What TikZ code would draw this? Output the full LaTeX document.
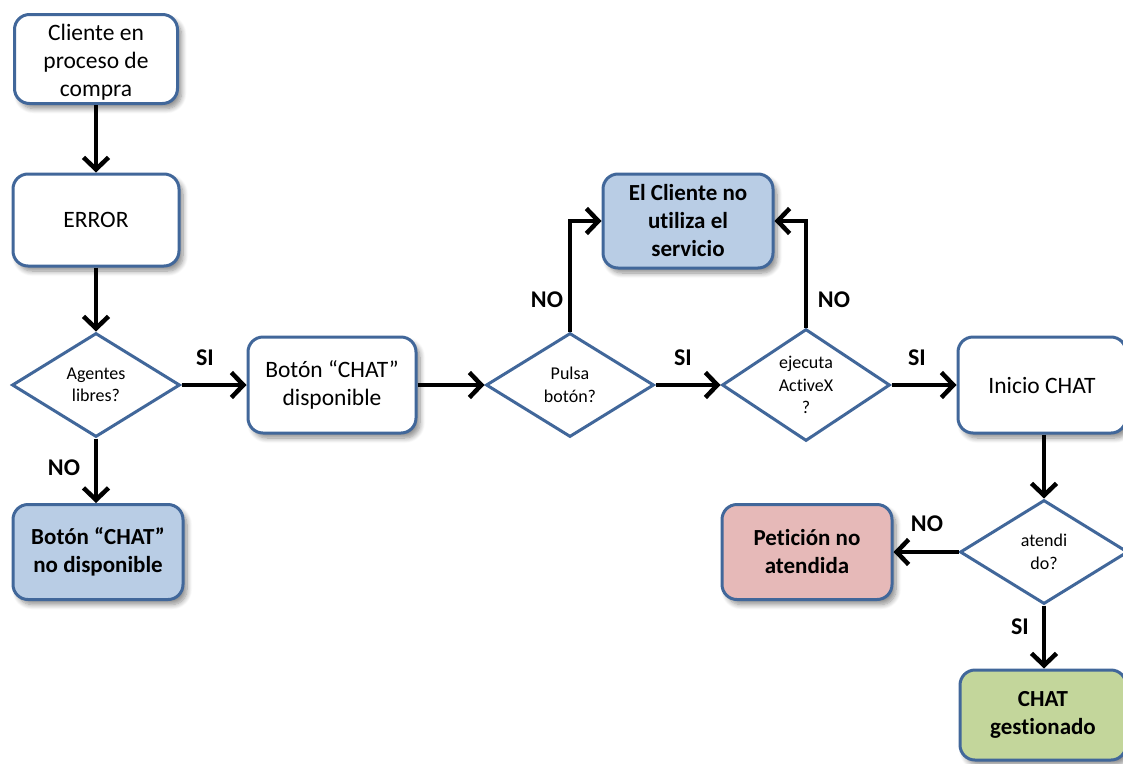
\documentclass[tikz,border=0pt]{standalone}
\usepackage{fontspec}
\setmainfont{Carlito}[Ligatures=NoCommon]
\usetikzlibrary{shapes.geometric,arrows.meta,shadows.blur}
\definecolor{edgeblue}{HTML}{41679A}
\definecolor{lightblue}{HTML}{B9CDE5}
\definecolor{lightpink}{HTML}{E6B9B8}
\definecolor{lightgreen}{HTML}{C3D69B}
\tikzset{
  boxbase/.style={draw=edgeblue, line width=3pt, rounded corners=15pt,
    align=center, inner sep=0pt,
    blur shadow={shadow xshift=4pt, shadow yshift=-5pt, shadow blur radius=5pt,
      shadow blur steps=8, shadow opacity=45}},
  boxtext/.style={font=\fontsize{23.5}{28}\selectfont, align=center, inner sep=0pt},
  procbox/.style={boxbase, fill=white, minimum width=166pt, minimum height=92pt,
    font=\fontsize{23.5}{28}\selectfont},
  endbox/.style={boxbase, minimum width=168pt, minimum height=93pt,
    font=\fontsize{23}{28}\selectfont\bfseries},
  decision/.style={diamond, draw=edgeblue, line width=3pt, fill=white, align=center,
    inner sep=0pt, minimum width=168pt, minimum height=104pt,
    font=\fontsize{18}{22.5}\selectfont},
  arr/.style={line width=4.3pt, -{Straight Barb[length=12pt,width=25pt,line width=4.5pt]}},
  lbl/.style={font=\fontsize{24}{26}\selectfont\bfseries, inner sep=0pt}
}
\begin{document}
\begin{tikzpicture}[x=1pt,y=-1pt]
  \useasboundingbox (0,0) rectangle (1123,763);
  % process boxes
  \node[procbox, minimum width=163pt, minimum height=89pt] (start) at (96,59) {};
  \node[boxtext] (starttext) at (96,62) {Cliente en\\proceso de\\compra};
  \node[procbox] (err) at (96,220) {ERROR};
  \node[procbox, minimum width=168pt, minimum height=96pt] (avail) at (332,385) {Botón “CHAT”\\disponible};
  \node[procbox, minimum width=168pt, minimum height=96pt] (chat) at (1042,385) {Inicio CHAT};
  % decisions
  \node[decision] (free) at (96,385) {Agentes\\libres?};
  \node[decision] (press) at (570,385) {Pulsa\\botón?};
  \node[decision] (activex) at (806,385) {ejecuta\\ActiveX\\?};
  \node[decision] (served) at (1044,552) {atendi\\do?};
  % end states
  \node[endbox, fill=lightblue, minimum width=170pt, minimum height=95pt] (unavail) at (98,552) {Botón “CHAT”\\no disponible};
  \node[endbox, fill=lightblue, minimum width=170pt, minimum height=94pt] (noserv) at (688,221) {El Cliente no\\utiliza el\\servicio};
  \node[endbox, fill=lightpink, minimum width=170pt, minimum height=95pt] (rejected) at (807,552) {Petición no\\atendida};
  \node[endbox, fill=lightgreen, minimum width=166pt, minimum height=90pt] (done) at (1043,715) {CHAT\\gestionado};
  % connectors
  \draw[arr] (start) -- (err);
  \draw[arr] (err) -- (free);
  \draw[arr] (free.south) -- (free.south |- unavail.north);
  \draw[arr] (free) -- (avail);
  \draw[arr] (avail) -- (press);
  \draw[arr] (press) -- (activex);
  \draw[arr] (activex) -- (chat);
  \draw[arr] (press.north) |- (noserv.west);
  \draw[arr] (activex.north) |- (noserv.east);
  \draw[arr] (chat.south -| served.north) -- (served.north);
  \draw[arr] (served) -- (rejected);
  \draw[arr] (served) -- (done.north -| served.south);
  % branch labels
  \node[lbl] (l1) at (205,358) {SI};
  \node[lbl] (l2) at (64,468) {NO};
  \node[lbl] (l3) at (547,300) {NO};
  \node[lbl] (l4) at (683,358) {SI};
  \node[lbl] (l5) at (834,300) {NO};
  \node[lbl] (l6) at (917,358) {SI};
  \node[lbl] (l7) at (927,524) {NO};
  \node[lbl] (l8) at (1020,627) {SI};
\end{tikzpicture}
\end{document}
